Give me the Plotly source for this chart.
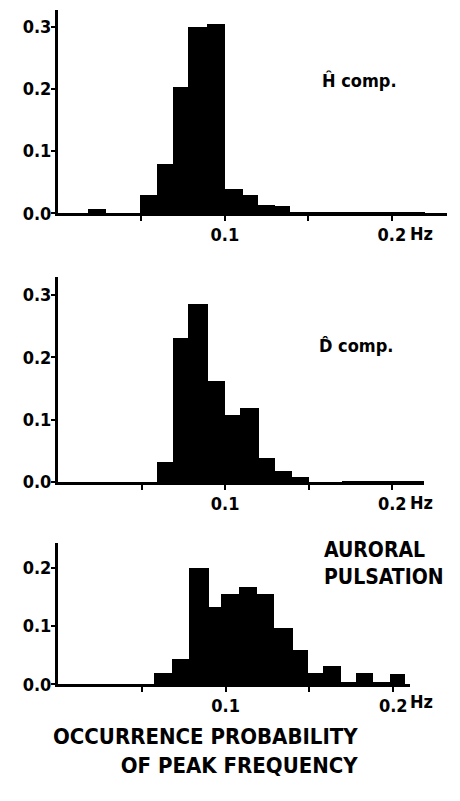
import plotly.graph_objects as go

# ---- data (frequency bin edges in Hz, occurrence probability per bin) ----
h_edges = [0.018, 0.029, 0.049, 0.059, 0.069, 0.078, 0.089, 0.100, 0.111, 0.120, 0.130, 0.139, 0.160, 0.180, 0.200, 0.220]
h_probs = [0.007, 0.0, 0.030, 0.079, 0.203, 0.300, 0.305, 0.040, 0.030, 0.013, 0.012, 0.003, 0.002, 0.002, 0.002]

d_edges = [0.059, 0.069, 0.078, 0.090, 0.100, 0.109, 0.120, 0.130, 0.140, 0.150, 0.170, 0.220]
d_probs = [0.033, 0.232, 0.287, 0.163, 0.108, 0.119, 0.040, 0.018, 0.009, 0.0, 0.003]

a_edges = [0.057, 0.068, 0.078, 0.090, 0.097, 0.108, 0.119, 0.129, 0.140, 0.149, 0.158, 0.169, 0.178, 0.188, 0.198, 0.207]
a_probs = [0.0185, 0.044, 0.200, 0.133, 0.154, 0.167, 0.154, 0.096, 0.059, 0.0185, 0.031, 0.004, 0.0185, 0.004, 0.017]

panel_labels = ["Ĥ comp.", "D̂ comp.", "AURORAL<br>PULSATION"]
x_tickvals = [0.05, 0.10, 0.15, 0.20]
x_ticktext = ["", "0.1", "", "0.2"]
y_ticks_hd = [0.0, 0.1, 0.2, 0.3]
y_ticks_a = [0.0, 0.1, 0.2]
bottom_title = "OCCURRENCE PROBABILITY<br>OF PEAK FREQUENCY"

FONT = "Liberation Sans Narrow, DejaVu Sans Condensed, Roboto Condensed, Arial Narrow, sans-serif"
W, H = 460, 801


def bars(edges, probs, xa, ya):
    centers = [(edges[i] + edges[i + 1]) / 2 for i in range(len(probs))]
    widths = [edges[i + 1] - edges[i] for i in range(len(probs))]
    return go.Bar(x=centers, y=probs, width=widths, marker=dict(color="black", line=dict(width=0)),
                  xaxis=xa, yaxis=ya, showlegend=False, hoverinfo="skip")


fig = go.Figure()
fig.add_trace(bars(h_edges, h_probs, "x", "y"))
fig.add_trace(bars(d_edges, d_probs, "x2", "y2"))
fig.add_trace(bars(a_edges, a_probs, "x3", "y3"))

tickfont = dict(family=FONT, size=18, color="black", weight="bold")


def xaxis(dom, rng, anchor):
    return dict(domain=dom, range=rng, anchor=anchor, showgrid=False, zeroline=False,
                showline=True, linecolor="black", linewidth=3,
                ticks="outside", ticklen=5, tickwidth=2, tickcolor="black",
                ticklabelstandoff=-2,
                tickvals=x_tickvals, ticktext=x_ticktext, tickfont=tickfont)


def yaxis(dom, rng, anchor, ticks):
    return dict(domain=dom, range=rng, anchor=anchor, showgrid=False, zeroline=False,
                showline=True, linecolor="black", linewidth=3,
                ticks="outside", ticklen=4, tickwidth=2, tickcolor="black",
                ticklabelstandoff=-4,
                tickvals=ticks, ticktext=["%.1f" % t for t in ticks], tickfont=tickfont)


x0 = 58 / W
fig.update_layout(
    width=W, height=H, margin=dict(l=0, r=0, t=0, b=0),
    paper_bgcolor="white", plot_bgcolor="white", bargap=0,
    xaxis=xaxis([x0, 447 / W], [0, 0.233], "y"),
    yaxis=yaxis([1 - 216 / H, 1 - 10 / H], [0, 0.327], "x", y_ticks_hd),
    xaxis2=xaxis([x0, 424 / W], [0, 0.219], "y2"),
    yaxis2=yaxis([1 - 488 / H, 1 - 280 / H], [0, 0.33], "x2", y_ticks_hd),
    xaxis3=xaxis([x0, 410 / W], [0, 0.210], "y3"),
    yaxis3=yaxis([1 - 693 / H, 1 - 550 / H], [0, 0.242], "x3", y_ticks_a),
)

# panel labels
ann_font = dict(family=FONT, size=18, color="black", weight="bold")
fig.add_annotation(text=panel_labels[0], x=320 / W, y=1 - 82 / H, xref="paper", yref="paper",
                   xanchor="left", yanchor="middle", showarrow=False, font=ann_font)
fig.add_annotation(text=panel_labels[1], x=317 / W, y=1 - 350 / H, xref="paper", yref="paper",
                   xanchor="left", yanchor="middle", showarrow=False, font=ann_font)
fig.add_annotation(text=panel_labels[2], x=322 / W, y=1 - 571 / H, xref="paper", yref="paper",
                   xanchor="left", yanchor="middle", align="left", showarrow=False,
                   font=dict(family=FONT, size=21, color="black", weight="bold"))

# "Hz" unit next to 0.2 tick label
for ypx in (236, 509, 710):
    fig.add_annotation(text="Hz", x=408 / W, y=1 - ypx / H, xref="paper", yref="paper",
                       xanchor="left", yanchor="middle", showarrow=False, font=tickfont)

# bottom title
fig.add_annotation(text=bottom_title, x=360 / W, y=1 - 760 / H, xref="paper", yref="paper",
                   xanchor="right", yanchor="middle", align="right", showarrow=False,
                   font=dict(family=FONT, size=22, color="black", weight="bold"))

fig.write_html("out.html")
